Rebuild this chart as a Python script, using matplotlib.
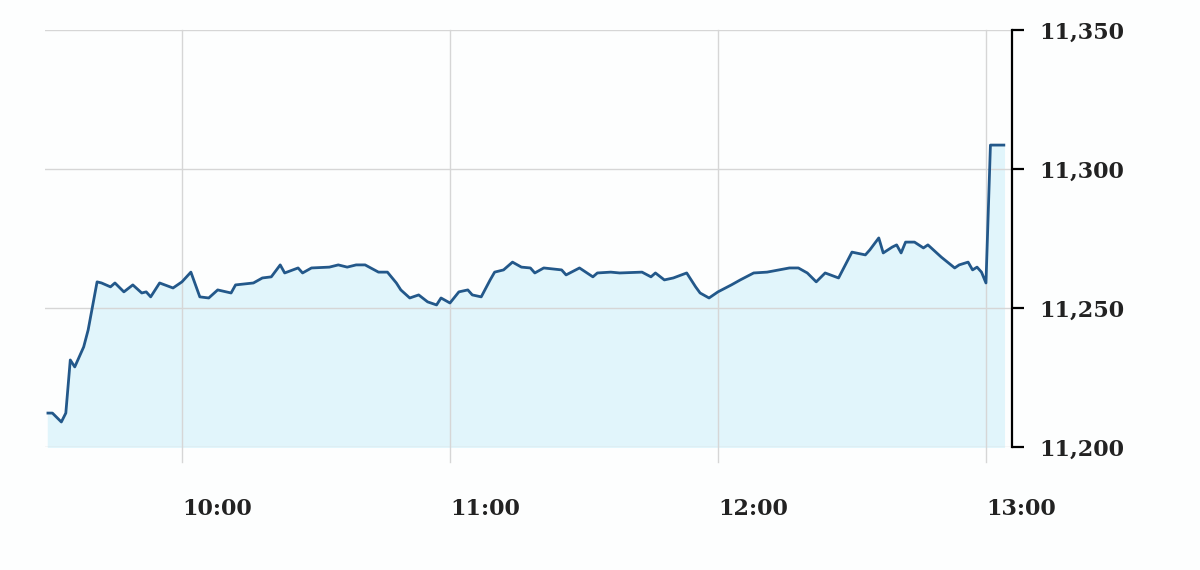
import numpy as np
import pandas as pd
import matplotlib
matplotlib.use('Agg')
import matplotlib.pyplot as plt
from matplotlib.ticker import FuncFormatter

# intraday index level
times = ['9:30', '9:31', '9:33', '9:34', '9:35', '9:36', '9:38', '9:39', '9:41', '9:42',
         '9:44', '9:45', '9:47', '9:49', '9:51', '9:52', '9:53', '9:55', '9:58', '10:00',
         '10:02', '10:04', '10:06', '10:08', '10:11', '10:12', '10:16', '10:18', '10:20', '10:22',
         '10:23', '10:26', '10:27', '10:29', '10:33', '10:35', '10:37', '10:39', '10:41', '10:44',
         '10:46', '10:48', '10:49', '10:51', '10:53', '10:55', '10:57', '10:58', '11:00', '11:02',
         '11:04', '11:05', '11:07', '11:09', '11:10', '11:12', '11:14', '11:16', '11:18', '11:19',
         '11:21', '11:25', '11:26', '11:29', '11:32', '11:33', '11:36', '11:38', '11:43', '11:45',
         '11:46', '11:48', '11:50', '11:53', '11:55', '11:56', '11:58', '12:00', '12:03', '12:05',
         '12:08', '12:11', '12:16', '12:18', '12:20', '12:22', '12:24', '12:27', '12:30', '12:33',
         '12:34', '12:36', '12:37', '12:39', '12:40', '12:41', '12:42', '12:44', '12:46', '12:47',
         '12:50', '12:53', '12:54', '12:56', '12:57', '12:58', '12:59', '13:00', '13:01', '13:04']
level = [11212.2, 11212.2, 11209.0, 11212.2, 11231.3, 11228.8, 11236.0, 11242.1, 11259.4, 11259.0,
         11257.6, 11259.0, 11255.8, 11258.3, 11255.4, 11255.8, 11254.0, 11259.0, 11257.2, 11259.4,
         11262.9, 11254.0, 11253.6, 11256.5, 11255.4, 11258.3, 11259.0, 11260.8, 11261.2, 11265.5,
         11262.6, 11264.4, 11262.6, 11264.4, 11264.7, 11265.5, 11264.7, 11265.5, 11265.5, 11262.9,
         11262.9, 11259.0, 11256.5, 11253.6, 11254.7, 11252.2, 11251.1, 11253.6, 11251.8, 11255.8,
         11256.5, 11254.7, 11254.0, 11260.1, 11262.9, 11263.7, 11266.5, 11264.7, 11264.4, 11262.6,
         11264.4, 11263.7, 11261.9, 11264.4, 11261.2, 11262.6, 11262.9, 11262.6, 11262.9, 11261.2,
         11262.6, 11260.1, 11260.8, 11262.6, 11257.6, 11255.4, 11253.6, 11255.8, 11258.3, 11260.1,
         11262.6, 11262.9, 11264.4, 11264.4, 11262.6, 11259.4, 11262.6, 11260.8, 11270.1, 11269.1,
         11270.9, 11275.2, 11269.8, 11271.9, 11272.7, 11269.8, 11273.7, 11273.7, 11271.6, 11272.7,
         11268.3, 11264.4, 11265.5, 11266.5, 11263.7, 11264.7, 11262.9, 11259.0, 11308.6, 11308.6]
hour_ticks = [10, 11, 12, 13]
level_ticks = [11200, 11250, 11300, 11350]

t = pd.to_datetime(times, format='%H:%M')
x = t.hour + t.minute / 60.0
y = np.array(level)

font = ['DejaVu Serif Condensed', 'DejaVu Serif']

fig = plt.figure(figsize=(12, 5.7), dpi=100, facecolor='#fdfefe')
ax = fig.add_axes([0.0375, 0.2158, 0.8058, 0.7316])
ax.set_facecolor('#fdfefe')

ax.fill_between(x, y, 11200, color='#e1f5fb', zorder=1)
ax.plot(x, y, color='#23588a', lw=2.0, zorder=3)

ax.set_xlim(9.489, 13.097)
ax.set_ylim(11200, 11350)

ax.set_xticks(hour_ticks)
ax.set_xticklabels(['%d:00' % h for h in hour_ticks])
ax.set_yticks(level_ticks)
ax.yaxis.set_major_formatter(FuncFormatter(lambda v, p: '{:,.0f}'.format(v)))
ax.yaxis.tick_right()

# grid: horizontal inside the axes, vertical running a bit below it
for v in level_ticks:
    ax.axhline(v, color='#d6d6d6', lw=1.0, zorder=2)
for h in hour_ticks:
    ax.axvline(h, ymin=-0.035, ymax=1.0, color='#d6d6d6', lw=1.0, zorder=2, clip_on=False)

for s in ['top', 'left', 'bottom']:
    ax.spines[s].set_visible(False)
ax.spines['right'].set_color('black')
ax.spines['right'].set_linewidth(1.6)
ax.spines['right'].set_zorder(4)

ax.tick_params(axis='y', length=8.5, width=1.6, pad=11, colors='black')
ax.tick_params(axis='x', length=0, pad=37)
for lab in ax.get_xticklabels():
    lab.set_horizontalalignment('left')
for lab in ax.get_xticklabels() + ax.get_yticklabels():
    lab.set_family(font)
    lab.set_fontweight('bold')
    lab.set_fontsize(16)
    lab.set_color('#222222')

fig.savefig('out.png', dpi=100, facecolor=fig.get_facecolor())
